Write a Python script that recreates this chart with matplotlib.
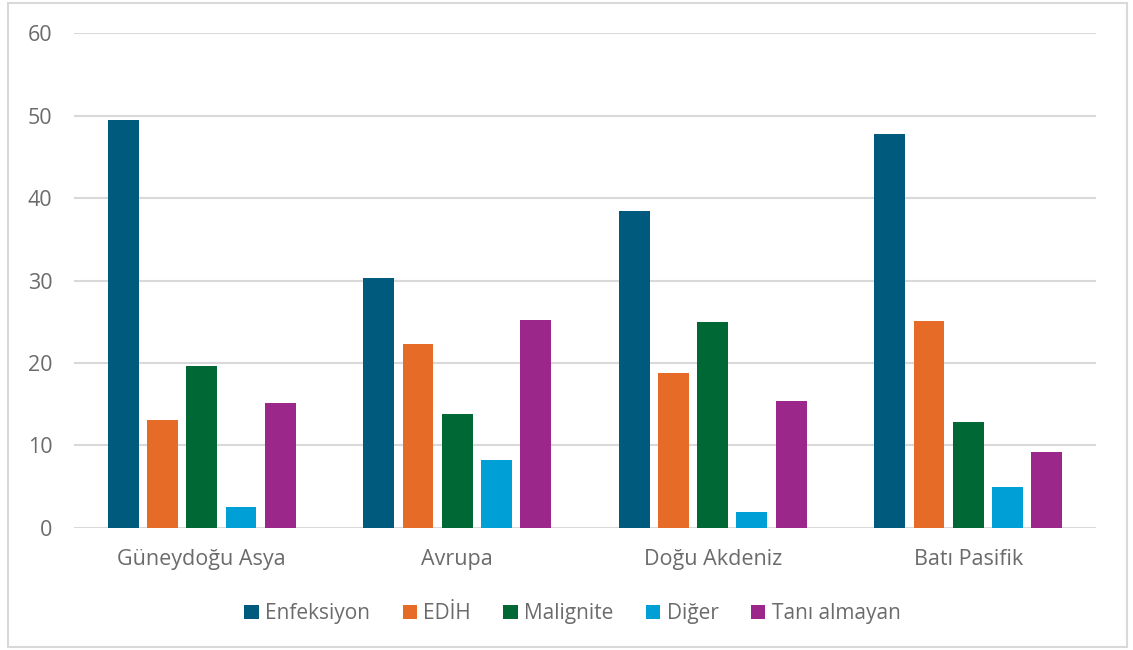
import matplotlib
matplotlib.use("Agg")
import matplotlib.pyplot as plt
from matplotlib.patches import Rectangle
import numpy as np

regions = ["Güneydoğu Asya", "Avrupa", "Doğu Akdeniz", "Batı Pasifik"]
series_names = ["Enfeksiyon", "EDİH", "Malignite", "Diğer", "Tanı almayan"]
enfeksiyon = [49.5, 30.3, 38.4, 47.8]
edih = [13.1, 22.3, 18.8, 25.1]
malignite = [19.6, 13.8, 25.0, 12.8]
diger = [2.5, 8.2, 1.9, 5.0]
tani_almayan = [15.2, 25.2, 15.4, 9.2]
colors = ["#005A7D", "#E66B26", "#006834", "#00A0D6", "#9A2789"]
yticks = [0, 10, 20, 30, 40, 50, 60]

plt.rcParams["font.family"] = ["Open Sans", "DejaVu Sans"]
text_color = "#6B6B6B"

fig = plt.figure(figsize=(11.33, 6.5), dpi=100)
ax = fig.add_axes([0.0653, 0.1877, 0.902, 0.7615])

x = np.arange(len(regions))
pitch = 0.1536
width = 0.121
all_series = [enfeksiyon, edih, malignite, diger, tani_almayan]
for i, (name, vals, c) in enumerate(zip(series_names, all_series, colors)):
    ax.bar(x + (i - 2) * pitch, vals, width, color=c, label=name, zorder=3)

ax.set_xlim(-0.5, len(regions) - 0.5)
ax.set_ylim(0, 60)
ax.set_yticks(yticks)
ax.set_xticks(x)
ax.set_xticklabels(regions)
ax.grid(axis="y", color="#D9D9D9", linewidth=1.5, zorder=0)
for s in ax.spines.values():
    s.set_visible(False)
ax.tick_params(axis="both", length=0, labelcolor=text_color)
ax.tick_params(axis="y", pad=15.5, labelsize=15.5)
ax.tick_params(axis="x", pad=15, labelsize=15.5)

leg = fig.legend(loc="center", bbox_to_anchor=(0.5053, 0.056), ncol=5, frameon=False,
                 fontsize=15, handlelength=0.7, handleheight=0.7,
                 handletextpad=0.3, columnspacing=1.55)
for t in leg.get_texts():
    t.set_color(text_color)

fig.patches.append(Rectangle((8 / 1133, 3 / 650), 1119 / 1133, 644 / 650,
                             transform=fig.transFigure, fill=False,
                             edgecolor="#D9D9D9", linewidth=1.5))

fig.savefig("out.png", dpi=100, facecolor="white")
